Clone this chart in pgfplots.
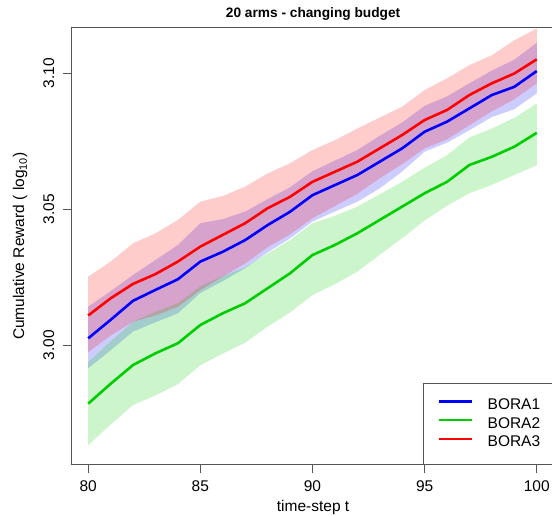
\documentclass[border=0pt]{standalone}
\usepackage{pgfplots}
\pgfplotsset{compat=1.18}
\usepgfplotslibrary{fillbetween}
\usepackage{pgfplotstable}
\usepackage{fontspec}
\setmainfont{Liberation Sans}

\definecolor{rblue}{RGB}{0,0,255}
\definecolor{rgreen}{RGB}{0,205,0}
\definecolor{rred}{RGB}{255,0,0}
\definecolor{framegray}{RGB}{85,85,85}

% t, then mean / lower / upper for BORA3 (r), BORA1 (b), BORA2 (g)
\pgfplotstableread{
t   r      rlo    rhi    b      blo    bhi    g      glo    ghi
80  3.0110 2.9975 3.0253 3.0026 2.9916 3.0142 2.9786 2.9634 2.9939
81  3.0173 3.0036 3.0308 3.0094 2.9982 3.0199 2.9859 2.9709 3.0015
82  3.0226 3.0087 3.0375 3.0164 3.0051 3.0259 2.9928 2.9781 3.0087
83  3.0262 3.0110 3.0412 3.0204 3.0085 3.0314 2.9971 2.9816 3.0124
84  3.0308 3.0142 3.0461 3.0243 3.0118 3.0369 3.0008 2.9858 3.0155
85  3.0363 3.0203 3.0528 3.0308 3.0193 3.0449 3.0075 2.9927 3.0217
86  3.0406 3.0253 3.0549 3.0344 3.0236 3.0464 3.0118 2.9970 3.0255
87  3.0449 3.0301 3.0583 3.0387 3.0284 3.0492 3.0155 3.0010 3.0287
88  3.0504 3.0361 3.0632 3.0442 3.0342 3.0537 3.0210 3.0069 3.0338
89  3.0546 3.0408 3.0669 3.0491 3.0393 3.0581 3.0265 3.0121 3.0387
90  3.0601 3.0467 3.0718 3.0552 3.0455 3.0640 3.0332 3.0185 3.0449
91  3.0638 3.0512 3.0754 3.0589 3.0492 3.0679 3.0369 3.0225 3.0476
92  3.0675 3.0557 3.0797 3.0626 3.0528 3.0718 3.0412 3.0271 3.0510
93  3.0724 3.0614 3.0837 3.0675 3.0577 3.0770 3.0461 3.0333 3.0555
94  3.0773 3.0666 3.0877 3.0724 3.0639 3.0819 3.0510 3.0394 3.0601
95  3.0828 3.0724 3.0938 3.0785 3.0712 3.0880 3.0559 3.0459 3.0653
96  3.0865 3.0757 3.0981 3.0822 3.0745 3.0915 3.0601 3.0513 3.0699
97  3.0920 3.0809 3.1030 3.0871 3.0791 3.0963 3.0663 3.0559 3.0764
98  3.0963 3.0860 3.1066 3.0920 3.0839 3.1010 3.0693 3.0590 3.0797
99  3.0999 3.0904 3.1121 3.0950 3.0868 3.1050 3.0730 3.0626 3.0836
100 3.1051 3.0963 3.1164 3.1008 3.0926 3.1112 3.0781 3.0662 3.0889
}\bora

\begin{document}
\begin{tikzpicture}[font=\fontsize{15.5}{18}\selectfont]
\begin{axis}[
    scale only axis,
    width=483.3pt, height=437.5pt,
    xmin=79.255, xmax=100.8,
    ymin=2.9561, ymax=3.1168,
    xtick={80,85,...,100},
    ytick={3.00,3.05,3.10},
    xtick pos=bottom, ytick pos=left,
    tick align=outside,
    major tick length=8pt,
    every tick/.style={draw=framegray, line width=1pt},
    axis line style={draw=none},
    /pgf/number format/assume math mode=true,
    ticklabel style={font=\fontsize{15.5}{18}\selectfont},
    yticklabel style={xshift=-9pt, rotate=90, anchor=south, inner sep=0pt,
        /pgf/number format/fixed, /pgf/number format/fixed zerofill,
        /pgf/number format/precision=2},
    xticklabel style={anchor=north, inner sep=0pt, yshift=-8pt},
    legend style={at={(rel axis cs:1,0)}, anchor=south east, draw=none, fill=white, name=leg,
        font=\fontsize{15.5}{18}\selectfont, inner xsep=14.3pt, inner ysep=14.8pt, row sep=4.7pt,
        nodes={inner sep=0pt, text height=11pt, text depth=3pt},
        /tikz/every odd column/.append style={column sep=14.7pt}},
    legend cell align=left,
    legend image code/.code={\draw[#1, line width=2.2pt] (0pt,4pt) -- (33pt,4pt);},
]
% bands
\addplot[draw=none, name path=bhi, forget plot] table[x=t, y=bhi] {\bora};
\addplot[draw=none, name path=blo, forget plot] table[x=t, y=blo] {\bora};
\addplot[draw=none, name path=ghi, forget plot] table[x=t, y=ghi] {\bora};
\addplot[draw=none, name path=glo, forget plot] table[x=t, y=glo] {\bora};
\addplot[draw=none, name path=rhi, forget plot] table[x=t, y=rhi] {\bora};
\addplot[draw=none, name path=rlo, forget plot] table[x=t, y=rlo] {\bora};
\addplot[fill=rblue, fill opacity=0.2, draw=none, forget plot] fill between[of=bhi and blo];
\addplot[fill=rgreen, fill opacity=0.2, draw=none, forget plot] fill between[of=ghi and glo];
\addplot[fill=rred, fill opacity=0.2, draw=none, forget plot] fill between[of=rhi and rlo];
% means
\addplot[rblue, line width=2.6pt] table[x=t, y=b] {\bora};
\addlegendentry{BORA1}
\addplot[rgreen, line width=2.6pt] table[x=t, y=g] {\bora};
\addlegendentry{BORA2}
\addplot[rred, line width=2.6pt] table[x=t, y=r] {\bora};
\addlegendentry{BORA3}
\end{axis}
% frame: the right side lies outside the cropped picture
\draw[framegray, line width=1.1pt] (current axis.north east) -- (current axis.north west)
    -- (current axis.south west) -- (current axis.south east);
\draw[framegray, line width=1pt] (leg.south west) -- (leg.north west) -- (leg.north east);
\node[font=\bfseries\fontsize{13.7}{16}\selectfont] at ([yshift=13.5pt]current axis.north) {20 arms - changing budget};
\node at ([yshift=-43pt]current axis.south) {time-step t};
\node[rotate=90] at ([xshift=-51.3pt]current axis.west) {Cumulative Reward ( log\textsubscript{10})};
\pgfresetboundingbox
\path[use as bounding box] ([xshift=-71.5pt, yshift=-51pt]current axis.south west)
    rectangle ([xshift=-2.7pt, yshift=27.5pt]current axis.north east);
\end{tikzpicture}
\end{document}
